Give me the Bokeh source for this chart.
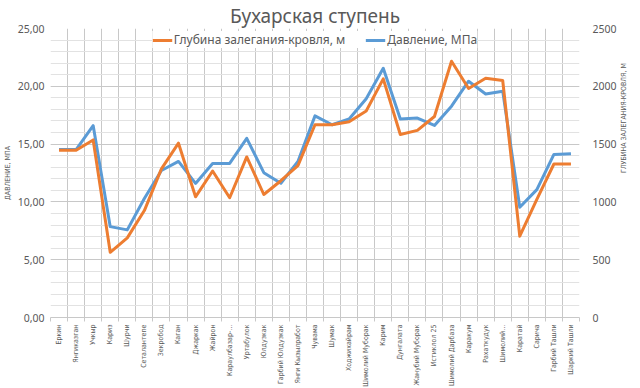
import math
from bokeh.plotting import figure
from bokeh.models import Range1d, LinearAxis, FixedTicker, Legend, LegendItem
from bokeh.embed import file_html
from bokeh.resources import INLINE

categories = ["Еркин", "Янгиказган", "Учкыр", "Кариз", "Шурчи", "Сеталантепе",
              "Зекробод", "Каган", "Джаркак", "Жайрон", "Караулбазар-…", "Уртабулок",
              "Юлдузкак", "Гарбий Юлдузкак", "Янги Кызылработ", "Чувама", "Шумак",
              "Ходжихайрам", "Шимолий Муборак", "Карим", "Дунгалата", "Жанубий Муборак",
              "Истиклол 25", "Шимолий Дарбаза", "Каракум", "Рахаткудук", "Шимолий…",
              "Каратай", "Сарича", "Гарбий Ташли", "Шаркий Ташли"]

depth_m = [1447, 1447, 1536, 564, 689, 925, 1286, 1508, 1044, 1267, 1036, 1389,
           1064, 1183, 1314, 1667, 1667, 1694, 1786, 2064, 1583, 1619, 1739, 2217,
           1981, 2069, 2050, 703, 1022, 1328, 1328]

pressure_mpa = [14.53, 14.53, 16.6, 7.86, 7.58, 10.3, 12.72, 13.5, 11.6, 13.33, 13.33, 15.5,
                12.53, 11.61, 13.5, 17.44, 16.67, 17.17, 18.92, 21.56, 17.17, 17.25,
                16.61, 18.28, 20.44, 19.33, 19.58, 9.53, 11.06, 14.11, 14.17]

left_ticks = [0, 5, 10, 15, 20, 25]
right_ticks = [0, 500, 1000, 1500, 2000, 2500]

title_text = "Бухарская ступень"
depth_label = "Глубина залегания-кровля, м"
pressure_label = "Давление, МПа"
left_axis_title = "ДАВЛЕНИЕ, МПА"
right_axis_title = "ГЛУБИНА ЗАЛЕГАНИЯ-КРОВЛЯ, М"

GRAY = "#595959"
GRID = "#c8c8c8"
NARROW = "DejaVu Sans Condensed"

n = len(categories)
xs = list(range(n))
bounds = [i - 0.5 for i in range(n + 1)]

p = figure(frame_width=529, frame_height=289,
           x_range=Range1d(-0.5, n - 0.5), y_range=Range1d(0, 25),
           output_backend="svg", toolbar_location=None,
           min_border_left=0, min_border_right=0, min_border_top=0, min_border_bottom=0)
p.extra_y_ranges = {"depth": Range1d(0, 2500)}
p.outline_line_color = None
p.background_fill_color = "white"
p.border_fill_color = "white"

# title
p.title.text = title_text
p.title.align = "center"
p.title.text_font = "Noto Sans"
p.title.text_font_size = "19px"
p.title.text_font_style = "normal"
p.title.text_color = GRAY
p.title.text_line_height = 1.0
p.title.standoff = 0

# grids
p.ygrid.ticker = FixedTicker(ticks=left_ticks, minor_ticks=list(range(0, 26)))
p.ygrid.grid_line_color = GRID
p.ygrid.minor_grid_line_color = "#e2e2e2"
p.xgrid.ticker = FixedTicker(ticks=bounds)
p.xgrid.grid_line_color = GRID

# left axis
ly = p.yaxis[0]
ly.ticker = FixedTicker(ticks=left_ticks)
ly.major_label_overrides = {t: f"{t:.2f}".replace(".", ",") for t in left_ticks}
ly.axis_line_color = None
ly.major_tick_line_color = None
ly.minor_tick_line_color = None
ly.major_tick_out = 0
ly.minor_tick_out = 0
ly.major_label_text_font = "Noto Sans"
ly.major_label_text_font_size = "10.5px"
ly.major_label_text_color = GRAY
ly.major_label_standoff = 6
ly.axis_label = left_axis_title
ly.axis_label_text_font = NARROW
ly.axis_label_text_font_size = "7px"
ly.axis_label_text_font_style = "normal"
ly.axis_label_text_color = GRAY
ly.axis_label_standoff = 3

# right axis
ry = LinearAxis(y_range_name="depth", ticker=FixedTicker(ticks=right_ticks))
ry.axis_line_color = None
ry.major_tick_line_color = None
ry.minor_tick_line_color = None
ry.major_tick_out = 0
ry.minor_tick_out = 0
ry.major_label_text_font = "Noto Sans"
ry.major_label_text_font_size = "10.5px"
ry.major_label_text_color = GRAY
ry.major_label_standoff = 13
ry.axis_label = right_axis_title
ry.axis_label_text_font = NARROW
ry.axis_label_text_font_size = "7px"
ry.axis_label_text_font_style = "normal"
ry.axis_label_text_color = GRAY
ry.axis_label_standoff = 4
ry.axis_label_orientation = math.pi / 2
p.add_layout(ry, "right")

# x axis
ax = p.xaxis[0]
ax.ticker = FixedTicker(ticks=xs, minor_ticks=bounds)
ax.major_label_overrides = {i: c for i, c in zip(xs, categories)}
ax.major_label_orientation = math.pi / 2
ax.major_label_text_font = NARROW
ax.major_label_text_font_size = "7px"
ax.major_label_text_color = GRAY
ax.major_label_standoff = 3
ax.axis_line_color = GRID
ax.major_tick_line_color = None
ax.major_tick_out = 0
ax.minor_tick_line_color = GRID
ax.minor_tick_in = 0
ax.minor_tick_out = 4

# lines
r_blue = p.line(xs, pressure_mpa, color="#5B9BD5", line_width=3, line_join="round")
r_orange = p.line(xs, depth_m, y_range_name="depth", color="#ED7D31", line_width=3,
                  line_join="round")

legend = Legend(items=[LegendItem(label=depth_label, renderers=[r_orange]),
                       LegendItem(label=pressure_label, renderers=[r_blue])],
                orientation="horizontal", location="top_center",
                border_line_color=None, background_fill_color="white", background_fill_alpha=1,
                label_text_font="Noto Sans", label_text_font_size="12px", label_text_color=GRAY,
                glyph_width=20, glyph_height=10, label_height=10, spacing=20,
                padding=2, margin=3, label_standoff=2)
p.add_layout(legend)

open("out.html", "w").write(file_html(p, INLINE))
